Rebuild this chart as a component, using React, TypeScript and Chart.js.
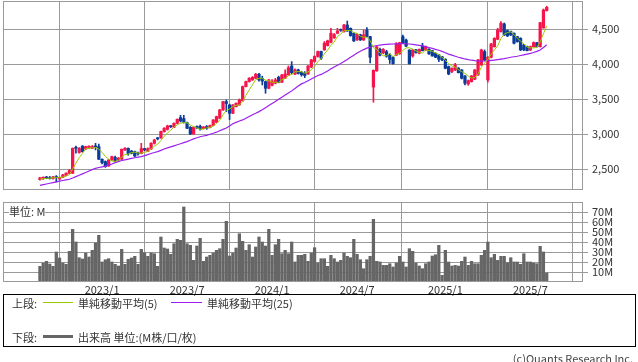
import React, { useEffect, useRef } from "react";
import { Chart, registerables } from "chart.js";
Chart.register(...registerables);

// ---- data (weekly, index 0 = first visible week) ----
const dateTickIdx = [19, 45, 71, 97, 124, 150];
const dateTickLabels = ["2023/1", "2023/7", "2024/1", "2024/7", "2025/1", "2025/7"];
const priceTicks = [2500, 3000, 3500, 4000, 4500];
const volumeTicks = [10, 20, 30, 40, 50, 60, 70];

const opens = [
  2352, 2370, 2390, 2380, 2368, 2395, 2362, 2386, 2412, 2440,
  2443, 2812, 2740, 2830, 2790, 2805, 2800, 2830, 2824, 2643,
  2610, 2548, 2633, 2670, 2633, 2643, 2776, 2800, 2760, 2752,
  2730, 2725, 2795, 2755, 2790, 2871, 2945, 2950, 3038, 3070,
  3115, 3100, 3157, 3238, 3224, 3166, 3100, 3005, 3110, 3115,
  3080, 3110, 3095, 3125, 3171, 3229, 3348, 3467, 3419, 3300,
  3395, 3420, 3480, 3681, 3752, 3776, 3800, 3857, 3800, 3752,
  3657, 3700, 3729, 3814, 3743, 3800, 3850, 3976, 3860, 3920,
  3885, 3870, 3862, 3960, 4040, 4112, 4183, 4206, 4268, 4315,
  4377, 4443, 4495, 4467, 4561, 4514, 4443, 4348, 4420, 4348,
  4490, 4396, 3674, 3905, 4212, 4164, 4180, 4130, 4097, 4130,
  4150, 4394, 4346, 4202, 4119, 4205, 4157, 4262, 4205, 4214,
  4195, 4157, 4133, 4110, 4071, 3967, 3896, 3919, 3943, 3919,
  3833, 3719, 3752, 3786, 3848, 3990, 4181, 3776, 4100, 4252,
  4357, 4467, 4576, 4480, 4467, 4443, 4395, 4371, 4276, 4252,
  4205, 4252, 4310, 4252, 4520, 4767,
];
const highs = [
  2385, 2392, 2400, 2398, 2400, 2410, 2390, 2428, 2450, 2500,
  2805, 2830, 2810, 2840, 2830, 2835, 2840, 2871, 2860, 2650,
  2620, 2640, 2690, 2690, 2668, 2790, 2810, 2805, 2770, 2760,
  2745, 2871, 2800, 2805, 2880, 2930, 2955, 3045, 3095, 3130,
  3125, 3165, 3220, 3271, 3271, 3175, 3110, 3105, 3120, 3130,
  3110, 3125, 3130, 3210, 3260, 3355, 3470, 3490, 3430, 3425,
  3450, 3505, 3690, 3760, 3810, 3825, 3870, 3870, 3830, 3760,
  3785, 3780, 3800, 3830, 3855, 3920, 3976, 4038, 3935, 3930,
  3900, 3895, 3980, 4070, 4120, 4190, 4190, 4325, 4345, 4514,
  4440, 4514, 4505, 4570, 4618, 4520, 4450, 4440, 4430, 4490,
  4524, 4400, 3920, 4255, 4230, 4225, 4200, 4154, 4110, 4310,
  4315, 4418, 4360, 4210, 4210, 4215, 4220, 4300, 4260, 4225,
  4200, 4165, 4140, 4115, 4080, 3975, 3950, 4015, 3955, 3925,
  3840, 3775, 3840, 3925, 4070, 4215, 4205, 4110, 4300, 4380,
  4515, 4610, 4590, 4490, 4475, 4450, 4400, 4380, 4285, 4260,
  4260, 4320, 4315, 4600, 4790, 4830,
];
const lows = [
  2345, 2355, 2365, 2360, 2360, 2319, 2350, 2380, 2405, 2435,
  2440, 2729, 2730, 2745, 2780, 2800, 2795, 2776, 2640, 2575,
  2528, 2540, 2625, 2610, 2625, 2640, 2770, 2700, 2720, 2680,
  2700, 2720, 2765, 2750, 2785, 2860, 2920, 2940, 3030, 3060,
  3095, 3095, 3150, 3176, 3160, 3080, 2995, 3000, 3080, 3060,
  3075, 3070, 3090, 3120, 3165, 3225, 3340, 3324, 3210, 3295,
  3390, 3415, 3470, 3675, 3745, 3770, 3795, 3760, 3705, 3586,
  3650, 3690, 3720, 3735, 3740, 3795, 3840, 3860, 3850, 3860,
  3830, 3810, 3855, 3950, 4030, 4100, 4070, 4200, 4260, 4305,
  4370, 4435, 4470, 4460, 4470, 4400, 4325, 4340, 4340, 4340,
  4390, 4020, 3458, 3900, 4120, 4150, 4100, 4011, 4000, 4125,
  4140, 4300, 4250, 4000, 4100, 4160, 4150, 4190, 4195, 4140,
  4115, 4095, 4038, 4050, 3935, 3850, 3880, 3910, 3875, 3790,
  3705, 3700, 3745, 3780, 3840, 3985, 4050, 3745, 4090, 4245,
  4350, 4460, 4410, 4395, 4410, 4290, 4315, 4195, 4195, 4190,
  4195, 4245, 4245, 4245, 4515, 4760,
];
const closes = [
  2378, 2386, 2372, 2368, 2392, 2380, 2383, 2420, 2445, 2481,
  2800, 2800, 2800, 2752, 2824, 2830, 2824, 2820, 2643, 2595,
  2538, 2633, 2681, 2620, 2660, 2786, 2800, 2720, 2730, 2690,
  2720, 2795, 2776, 2795, 2871, 2918, 2935, 3040, 3086, 3119,
  3108, 3157, 3214, 3190, 3167, 3086, 3005, 3100, 3090, 3075,
  3105, 3085, 3125, 3205, 3252, 3348, 3467, 3440, 3300, 3419,
  3443, 3490, 3681, 3752, 3800, 3814, 3857, 3776, 3760, 3657,
  3776, 3752, 3776, 3743, 3848, 3862, 3950, 3880, 3920, 3870,
  3850, 3840, 3976, 4062, 4112, 4183, 4088, 4301, 4335, 4443,
  4424, 4476, 4485, 4561, 4476, 4410, 4334, 4429, 4348, 4420,
  4396, 4100, 3914, 4250, 4130, 4212, 4116, 4068, 4010, 4290,
  4308, 4308, 4260, 4010, 4205, 4167, 4214, 4195, 4252, 4148,
  4119, 4100, 4071, 4062, 3943, 3862, 3943, 3990, 3881, 3800,
  3729, 3767, 3833, 3919, 4062, 4205, 4062, 4100, 4290, 4371,
  4490, 4586, 4419, 4405, 4419, 4300, 4324, 4205, 4205, 4195,
  4252, 4310, 4252, 4595, 4776, 4814,
];
const ma5 = [
  2360, 2365, 2370, 2373, 2379, 2380, 2379, 2389, 2404, 2422,
  2506, 2589, 2665, 2727, 2795, 2801, 2806, 2810, 2788, 2742,
  2684, 2646, 2618, 2613, 2626, 2676, 2709, 2717, 2739, 2745,
  2732, 2731, 2742, 2755, 2791, 2831, 2859, 2912, 2970, 3020,
  3058, 3102, 3137, 3158, 3167, 3163, 3132, 3110, 3090, 3071,
  3075, 3091, 3096, 3119, 3154, 3203, 3279, 3342, 3361, 3395,
  3414, 3418, 3467, 3557, 3633, 3707, 3781, 3800, 3801, 3773,
  3765, 3744, 3744, 3741, 3779, 3796, 3836, 3857, 3892, 3896,
  3894, 3872, 3891, 3920, 3968, 4035, 4084, 4149, 4204, 4270,
  4318, 4396, 4433, 4478, 4484, 4482, 4453, 4442, 4399, 4388,
  4385, 4339, 4236, 4216, 4158, 4121, 4124, 4155, 4107, 4139,
  4158, 4197, 4235, 4235, 4218, 4190, 4171, 4158, 4207, 4195,
  4186, 4163, 4138, 4100, 4059, 4008, 3976, 3960, 3924, 3895,
  3869, 3833, 3802, 3810, 3862, 3957, 4016, 4070, 4144, 4206,
  4263, 4367, 4431, 4454, 4464, 4426, 4373, 4331, 4291, 4246,
  4236, 4233, 4243, 4321, 4437, 4549,
];
const ma25 = [
  2271, 2280, 2290, 2300, 2310, 2320, 2330, 2340, 2348, 2357,
  2375, 2395, 2415, 2435, 2455, 2475, 2495, 2514, 2525, 2535,
  2545, 2560, 2575, 2595, 2610, 2625, 2635, 2645, 2655, 2665,
  2673, 2681, 2695, 2710, 2725, 2740, 2752, 2770, 2790, 2805,
  2820, 2835, 2850, 2865, 2880, 2895, 2915, 2935, 2950, 2965,
  2975, 2985, 3000, 3014, 3030, 3050, 3070, 3090, 3120, 3150,
  3170, 3190, 3205, 3230, 3255, 3280, 3300, 3324, 3350, 3380,
  3410, 3440, 3467, 3500, 3530, 3560, 3590, 3620, 3655, 3690,
  3720, 3740, 3765, 3790, 3815, 3840, 3855, 3880, 3905, 3935,
  3960, 3985, 4010, 4040, 4070, 4100, 4130, 4160, 4185, 4210,
  4230, 4245, 4258, 4268, 4275, 4280, 4285, 4288, 4290, 4292,
  4294, 4295, 4293, 4290, 4285, 4278, 4270, 4262, 4252, 4240,
  4228, 4213, 4200, 4185, 4165, 4145, 4130, 4115, 4100, 4088,
  4076, 4066, 4058, 4052, 4048, 4046, 4047, 4050, 4055, 4060,
  4066, 4073, 4080, 4090, 4100, 4108, 4115, 4125, 4135, 4145,
  4155, 4168, 4185, 4205, 4240, 4280,
];
const volumes = [
  15.7, 19, 20.7, 18, 15.7, 30, 24, 19, 17.7, 30.7,
  52.7, 40, 24.3, 23, 29, 25, 31.7, 39, 46.7, 20,
  22.3, 23.3, 20, 17.7, 16, 32.7, 17.7, 22.7, 24, 25.7,
  17.7, 32.7, 29.3, 25.7, 29, 28.3, 15.7, 45, 34, 33,
  27.7, 38.3, 42.7, 41.7, 75, 38.3, 36.7, 21.7, 36, 43.7,
  20.7, 25, 26.7, 29, 31.7, 33.3, 42.7, 60.7, 26, 29,
  34, 48.3, 40.7, 31.7, 37.3, 25, 35, 45, 40, 36,
  52.7, 26.7, 37.3, 42.7, 28.3, 31.7, 28.3, 40, 20, 26.7,
  26.7, 27.7, 20.7, 29, 34.3, 19, 23.3, 23.3, 15.7, 26.7,
  23.3, 20, 21.7, 29, 25.7, 24.3, 42.7, 27.7, 22.3, 13.3,
  22.3, 25.7, 62.7, 20.7, 20, 16.7, 16.7, 18.3, 15, 19,
  25.7, 20, 15, 33.3, 30.7, 19, 16, 13.3, 18.3, 20,
  26, 27.3, 36.7, 6.7, 31.7, 20, 16, 16.7, 16, 20.7,
  25, 16.7, 20.7, 18.3, 18.3, 26.7, 31.7, 40, 24.3, 27.7,
  21.7, 25.7, 25.7, 19.3, 24.3, 20, 20, 17.7, 28.3, 20,
  20, 19, 18.3, 35.7, 30, 9,
];

// ---- styles ----
const FONT = "'Noto Sans CJK JP', 'Noto Sans', sans-serif";
const GRID = "#9a9a9a";
const UP = "#f5144b";
const DOWN = "#0b3c97";
const MA5C = "#99cc00";
const MA25C = "#9b1ff0";
const VOLC = "#666666";
const TEXT = "#333333";
const X_MIN = -11.3;
const X_MAX = 166.1;

const framePlugin = {
  id: "frame",
  afterDraw(chart: any) {
    const { ctx, chartArea: a } = chart;
    ctx.save();
    ctx.strokeStyle = GRID;
    ctx.lineWidth = 1;
    const l = Math.round(a.left) + 0.5;
    const t = Math.round(a.top) + 0.5;
    const r = Math.round(a.right) - 0.5;
    const b = Math.round(a.bottom) - 0.5;
    ctx.strokeRect(l, t, r - l, b - t);
    ctx.restore();
  },
};

function zeroPad(s: any) {
  s.paddingTop = 0;
  s.paddingBottom = 0;
  s.paddingLeft = 0;
  s.paddingRight = 0;
}

function xScale(showLabels: boolean, height: number) {
  return {
    type: "linear",
    min: X_MIN,
    max: X_MAX,
    offset: false,
    afterBuildTicks: (s: any) => {
      s.ticks = dateTickIdx.map((v) => ({ value: v }));
    },
    afterFit: (s: any) => {
      s.height = height;
      zeroPad(s);
    },
    ticks: {
      display: showLabels,
      autoSkip: false,
      maxRotation: 0,
      padding: 1,
      color: TEXT,
      font: { family: FONT, size: 11 },
      callback: (_v: any, i: number) => dateTickLabels[i],
    },
    grid: { color: GRID, lineWidth: 1, drawTicks: false },
    border: { display: false },
  };
}

function yScale(min: number, max: number, ticks: number[], fmt: (v: number) => string) {
  return {
    position: "right",
    min,
    max,
    afterBuildTicks: (s: any) => {
      s.ticks = ticks.map((v) => ({ value: v }));
    },
    afterFit: (s: any) => {
      s.width = 55;
      zeroPad(s);
    },
    ticks: {
      autoSkip: false,
      padding: 4,
      color: TEXT,
      font: { family: FONT, size: 11 },
      callback: (v: any) => fmt(Number(v)),
    },
    grid: { color: GRID, lineWidth: 1, tickLength: 5, drawTicks: true },
    border: { display: false },
  };
}

function PriceChart() {
  const ref = useRef<HTMLCanvasElement>(null);
  useEffect(() => {
    const colors = closes.map((c, i) => (c >= opens[i] ? UP : DOWN));
    const chart = new Chart(ref.current as HTMLCanvasElement, {
      type: "bar",
      data: {
        datasets: [
          {
            type: "line",
            data: ma5.map((v, i) => ({ x: i, y: v })),
            borderColor: MA5C,
            borderWidth: 1,
            pointRadius: 0,
            tension: 0,
            order: 0,
          } as any,
          {
            type: "line",
            data: ma25.map((v, i) => ({ x: i, y: v })),
            borderColor: MA25C,
            borderWidth: 1.2,
            pointRadius: 0,
            tension: 0,
            order: 1,
          } as any,
          {
            type: "bar",
            data: lows.map((l, i) => ({ x: i, y: [l, highs[i]] })),
            backgroundColor: colors,
            barThickness: 1,
            grouped: false,
            order: 3,
          } as any,
          {
            type: "bar",
            data: opens.map((o, i) => ({ x: i, y: [o, closes[i]] })),
            backgroundColor: colors,
            barThickness: 2.6,
            minBarLength: 1,
            grouped: false,
            order: 2,
          } as any,
        ],
      },
      options: {
        responsive: false,
        animation: false,
        layout: { padding: { left: 3, top: 1, bottom: 6, right: 0 } },
        plugins: { legend: { display: false }, tooltip: { enabled: false } },
        scales: {
          x: xScale(false, 0) as any,
          y: yScale(2204, 4904, priceTicks, (v) => v.toLocaleString("en-US")) as any,
        },
      },
      plugins: [framePlugin],
    });
    return () => chart.destroy();
  }, []);
  return (
    <canvas
      ref={ref}
      width={638}
      height={196}
      style={{ position: "absolute", left: 0, top: 0 }}
    />
  );
}

function VolumeChart() {
  const ref = useRef<HTMLCanvasElement>(null);
  useEffect(() => {
    const chart = new Chart(ref.current as HTMLCanvasElement, {
      type: "bar",
      data: {
        datasets: [
          {
            data: volumes.map((v, i) => ({ x: i, y: v })),
            backgroundColor: VOLC,
            barThickness: 2.6,
            grouped: false,
          } as any,
        ],
      },
      options: {
        responsive: false,
        animation: false,
        layout: { padding: { left: 3, top: 7, bottom: 0, right: 0 } },
        plugins: { legend: { display: false }, tooltip: { enabled: false } },
        scales: {
          x: xScale(true, 14) as any,
          y: yScale(0, 80, volumeTicks, (v) => `${v}M`) as any,
        },
      },
      plugins: [framePlugin],
    });
    return () => chart.destroy();
  }, []);
  return (
    <canvas
      ref={ref}
      width={638}
      height={101}
      style={{ position: "absolute", left: 0, top: 195 }}
    />
  );
}

function Label(props: { x?: number; right?: number; cy: number; text: string; bg?: string; color?: string }) {
  const style: any = {
    position: "absolute",
    top: props.cy - 7,
    height: 14,
    lineHeight: "14px",
    fontSize: 11,
    fontFamily: FONT,
    color: props.color || TEXT,
    whiteSpace: "nowrap",
    background: props.bg,
  };
  if (props.x !== undefined) style.left = props.x;
  if (props.right !== undefined) style.right = props.right;
  return <div style={style}>{props.text}</div>;
}

export default function App() {
  return (
    <div
      style={{
        position: "absolute",
        left: 0,
        top: 0,
        width: 638,
        height: 362,
        background: "#fff",
        overflow: "hidden",
        fontFamily: FONT,
      }}
    >
      <PriceChart />
      <VolumeChart />
      <Label x={9} cy={210.5} text="単位: M" bg="#fff" />
      <div
        style={{
          position: "absolute",
          left: 3,
          top: 294,
          width: 633,
          height: 53,
          border: "1px solid #000",
          boxSizing: "border-box",
        }}
      />
      <Label x={12} cy={302.5} text="上段:" />
      <div style={{ position: "absolute", left: 43, top: 302, width: 30, height: 1, background: MA5C }} />
      <Label x={78} cy={302.5} text="単純移動平均(5)" />
      <div style={{ position: "absolute", left: 171, top: 302, width: 31, height: 1, background: MA25C }} />
      <Label x={207} cy={302.5} text="単純移動平均(25)" />
      <Label x={12} cy={336.5} text="下段:" />
      <div style={{ position: "absolute", left: 43, top: 335, width: 30, height: 3, background: VOLC }} />
      <Label x={78} cy={336.5} text="出来高 単位:(M株/口/枚)" />
      <Label right={5} cy={357.5} text="(c)Quants Research Inc." color="#444" />
    </div>
  );
}
